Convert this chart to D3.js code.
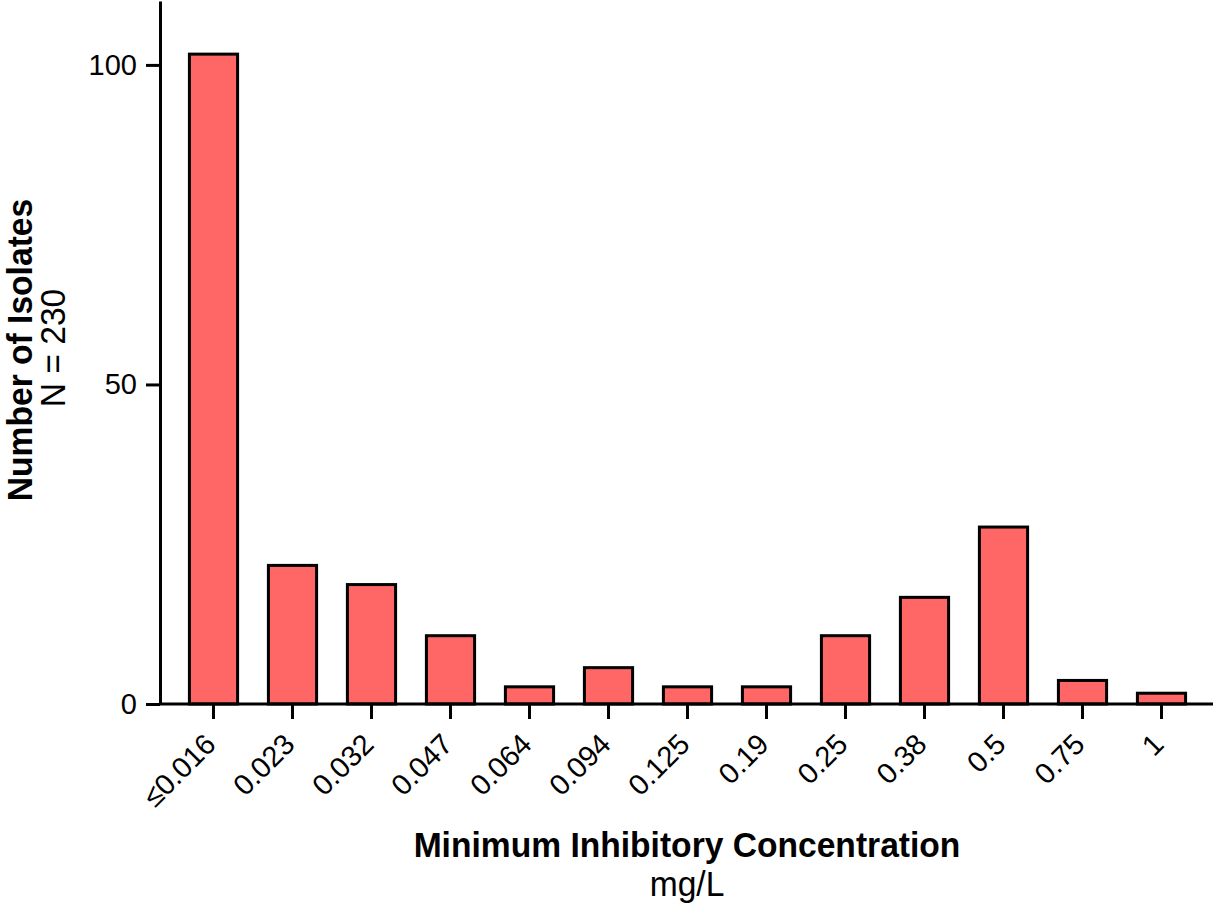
<!DOCTYPE html>
<html>
<head>
<meta charset="utf-8">
<script src="https://cdn.jsdelivr.net/npm/d3@7"></script>
<style>
  body { margin: 0; background: #fff; }
  svg { display: block; font-family: "Liberation Sans", Arial, sans-serif; }
</style>
</head>
<body>
<div id="chart"></div>
<script>
// MIC values (mg/L) and isolate counts
const categories = ["≤0.016", "0.023", "0.032", "0.047", "0.064", "0.094", "0.125", "0.19", "0.25", "0.38", "0.5", "0.75", "1"];
const counts = [102, 22, 19, 11, 3, 6, 3, 3, 11, 17, 28, 4, 2];
const yTicks = [0, 50, 100];

const width = 1213, height = 905;
const axisX = 160, baseY = 704;
const tickFont = 29, titleFont = 35;

const svg = d3.select("#chart").append("svg")
    .attr("width", width)
    .attr("height", height);

const x = d3.scaleBand()
    .domain(categories)
    .range([174, 1201])
    .paddingInner(0.39)
    .paddingOuter(0.195);

const y = d3.scaleLinear()
    .domain([0, 110])
    .range([baseY, 1]);

// bars
svg.append("g")
  .selectAll("rect")
  .data(counts)
  .join("rect")
    .attr("x", (d, i) => x(categories[i]))
    .attr("y", d => y(d) + 2)
    .attr("width", x.bandwidth())
    .attr("height", d => baseY - y(d) - 2)
    .attr("fill", "#ff6666")
    .attr("stroke", "#000")
    .attr("stroke-width", 3);

// y axis
const yAxis = svg.append("g")
    .attr("transform", `translate(${axisX},0)`)
    .call(d3.axisLeft(y).tickValues(yTicks).tickFormat(d3.format("d")).tickSize(14).tickSizeOuter(0).tickPadding(9));
yAxis.select(".domain").attr("stroke-width", 3);
yAxis.selectAll(".tick line").attr("stroke-width", 3);
yAxis.selectAll(".tick text")
    .attr("font-size", tickFont)
    .attr("fill", "#000")
    .attr("font-family", "Liberation Sans, Arial, sans-serif");

// x axis
const xAxis = svg.append("g")
    .attr("transform", `translate(0,${baseY})`)
    .call(d3.axisBottom(x).tickSize(15).tickSizeOuter(0));
xAxis.select(".domain").remove();
xAxis.selectAll(".tick line").attr("stroke-width", 3);
xAxis.selectAll(".tick text")
    .attr("x", 0)
    .attr("y", 0)
    .attr("dy", 0)
    .attr("transform", "translate(4,42) rotate(-45)")
    .attr("text-anchor", "end")
    .attr("font-size", tickFont)
    .attr("fill", "#000")
    .attr("font-family", "Liberation Sans, Arial, sans-serif");

svg.append("line")
    .attr("x1", axisX)
    .attr("x2", width)
    .attr("y1", baseY)
    .attr("y2", baseY)
    .attr("stroke", "#000")
    .attr("stroke-width", 3);

// axis titles (slightly condensed to match the original face)
svg.append("text")
    .attr("transform", "translate(32,350) rotate(-90) scale(0.96,1)")
    .attr("text-anchor", "middle")
    .attr("font-size", titleFont)
    .attr("font-weight", "bold")
    .text("Number of Isolates");

svg.append("text")
    .attr("transform", "translate(65,348) rotate(-90) scale(0.96,1)")
    .attr("text-anchor", "middle")
    .attr("font-size", titleFont)
    .text("N = 230");

svg.append("text")
    .attr("transform", "translate(687,857) scale(0.96,1)")
    .attr("text-anchor", "middle")
    .attr("font-size", titleFont)
    .attr("font-weight", "bold")
    .text("Minimum Inhibitory Concentration");

svg.append("text")
    .attr("transform", "translate(687,896) scale(0.96,1)")
    .attr("text-anchor", "middle")
    .attr("font-size", titleFont)
    .text("mg/L");
</script>
</body>
</html>
